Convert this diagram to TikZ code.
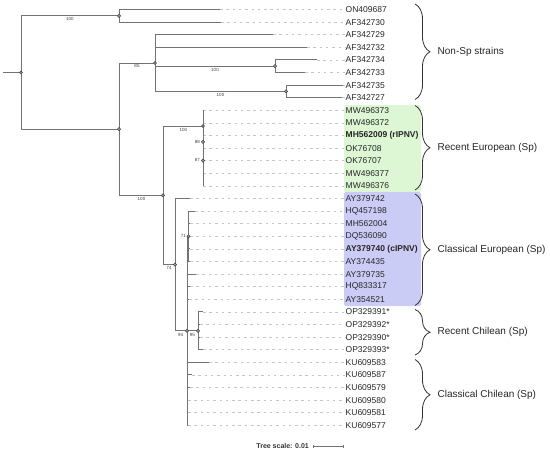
\documentclass[tikz,border=0pt]{standalone}
\usepackage{fontspec}
\setmainfont{Liberation Sans}
\usetikzlibrary{positioning}
\usetikzlibrary{decorations.pathreplacing}
\usetikzlibrary{arrows.meta}
\definecolor{recentEU}{HTML}{DDF6D3}
\definecolor{classicEU}{HTML}{CBCCF6}
\tikzset{
	branch/.style={draw=black!55,line width=1pt},
	leader/.style={draw=black!22,line width=0.8pt,dash pattern=on 2.5pt off 3.8pt},
	dot/.style={circle,draw=black!75,fill=black!35,line width=0.5pt,inner sep=0pt,minimum size=3.2pt},
	boot/.style={font=\fontsize{4.5}{5}\selectfont,text=black!75,inner sep=0pt},
	leaf/.style={anchor=west,inner sep=0.5pt,font=\fontsize{8.5}{10}\selectfont,text=black!85},
	clade/.style={anchor=west,inner sep=0pt,font=\fontsize{10}{12}\selectfont,text=black!85},
	bracket/.style={draw=black!80,line width=0.8pt,decorate,decoration={brace,amplitude=15pt}}
}

\begin{document}
\begin{tikzpicture}[x=1pt,y=-1pt]
	\useasboundingbox (0,0) rectangle (550,453);
	%clade boxes
	\fill[recentEU,rounded corners=1.5pt] (344,105) rectangle (421,192);
	\fill[classicEU,rounded corners=1.5pt] (344,192) rectangle (421,306);
	
	%internal nodes
	\coordinate (ROOT) at (3,72.5);
	\coordinate (IN_R) at (21,72.5);
	\coordinate (IN_A) at (119,15.8);
	\coordinate (IN_B) at (119,129.2);
	\coordinate (IN_C) at (155,63);
	\coordinate (IN_D) at (275,66.2);
	\coordinate (IN_E) at (286,91.4);
	\coordinate (IN_H) at (163,195.3);
	\coordinate (IN_F) at (203,126);
	\coordinate (IN_F2) at (203,141.8);
	\coordinate (IN_F3) at (203,160.7);
	\coordinate (IN_G) at (175,264.6);
	\coordinate (IN_J) at (188.5,236.3);
	\coordinate (IN_K) at (187,330.8);
	\coordinate (IN_M) at (198,330.8);
	
	%non-sp strains
	\coordinate (LF_0) at (220,9.5); \node[leaf] (TX_0) at (345,9.5) {ON409687};
	\coordinate (LF_1) at (221,22.1); \node[leaf] (TX_1) at (345,22.1) {AF342730};
	\coordinate (LF_2) at (273,34.7); \node[leaf] (TX_2) at (345,34.7) {AF342729};
	\coordinate (LF_3) at (307,47.3); \node[leaf] (TX_3) at (345,47.3) {AF342732};
	\coordinate (LF_4) at (317,59.9); \node[leaf] (TX_4) at (345,59.9) {AF342734};
	\coordinate (LF_5) at (305,72.5); \node[leaf] (TX_5) at (345,72.5) {AF342733};
	\coordinate (LF_6) at (343,85.1); \node[leaf] (TX_6) at (345,85.1) {AF342735};
	\coordinate (LF_7) at (342,97.7); \node[leaf] (TX_7) at (345,97.7) {AF342727};
	
	%recent european
	\coordinate (LF_8) at (203,110.3); \node[leaf] (TX_8) at (345,110.3) {MW496373};
	\coordinate (LF_9) at (203,122.9); \node[leaf] (TX_9) at (345,122.9) {MW496372};
	\coordinate (LF_10) at (203,135.5); \node[leaf] (TX_10) at (345,135.5) {\bfseries MH562009 (rIPNV)};
	\coordinate (LF_11) at (203,148.1); \node[leaf] (TX_11) at (345,148.1) {OK76708};
	\coordinate (LF_12) at (203,160.7); \node[leaf] (TX_12) at (345,160.7) {OK76707};
	\coordinate (LF_13) at (203,173.3); \node[leaf] (TX_13) at (345,173.3) {MW496377};
	\coordinate (LF_14) at (203,185.9); \node[leaf] (TX_14) at (345,185.9) {MW496376};
	
	%classical european
	\coordinate (LF_15) at (190,198.5); \node[leaf] (TX_15) at (345,198.5) {AY379742};
	\coordinate (LF_16) at (195,211.1); \node[leaf] (TX_16) at (345,211.1) {HQ457198};
	\coordinate (LF_17) at (190,223.7); \node[leaf] (TX_17) at (345,223.7) {MH562004};
	\coordinate (LF_18) at (190,236.3); \node[leaf] (TX_18) at (345,236.3) {DQ536090};
	\coordinate (LF_19) at (190,248.9); \node[leaf] (TX_19) at (345,248.9) {\bfseries AY379740 (cIPNV)};
	\coordinate (LF_20) at (190,261.5); \node[leaf] (TX_20) at (345,261.5) {AY374435};
	\coordinate (LF_21) at (196,274.1); \node[leaf] (TX_21) at (345,274.1) {AY379735};
	\coordinate (LF_22) at (190,286.7); \node[leaf] (TX_22) at (345,286.7) {HQ833317};
	\coordinate (LF_23) at (189,299.3); \node[leaf] (TX_23) at (345,299.3) {AY354521};
	
	%recent chilean
	\coordinate (LF_24) at (203,311.9); \node[leaf] (TX_24) at (345,311.9) {OP329391*};
	\coordinate (LF_25) at (200,324.5); \node[leaf] (TX_25) at (345,324.5) {OP329392*};
	\coordinate (LF_26) at (200,337.1); \node[leaf] (TX_26) at (345,337.1) {OP329390*};
	\coordinate (LF_27) at (203,349.7); \node[leaf] (TX_27) at (345,349.7) {OP329393*};
	
	%classical chilean
	\coordinate (LF_28) at (209,362.3); \node[leaf] (TX_28) at (345,362.3) {KU609583};
	\coordinate (LF_29) at (192,374.9); \node[leaf] (TX_29) at (345,374.9) {KU609587};
	\coordinate (LF_30) at (190,387.5); \node[leaf] (TX_30) at (345,387.5) {KU609579};
	\coordinate (LF_31) at (188,400.1); \node[leaf] (TX_31) at (345,400.1) {KU609580};
	\coordinate (LF_32) at (188,412.7); \node[leaf] (TX_32) at (345,412.7) {KU609581};
	\coordinate (LF_33) at (188,425.3); \node[leaf] (TX_33) at (345,425.3) {KU609577};
	
	%leaders
	\draw[leader] (LF_0) -- (TX_0);
	\draw[leader] (LF_1) -- (TX_1);
	\draw[leader] (LF_2) -- (TX_2);
	\draw[leader] (LF_3) -- (TX_3);
	\draw[leader] (LF_4) -- (TX_4);
	\draw[leader] (LF_5) -- (TX_5);
	\draw[leader] (LF_6) -- (TX_6);
	\draw[leader] (LF_7) -- (TX_7);
	\draw[leader] (LF_8) -- (TX_8);
	\draw[leader] (LF_9) -- (TX_9);
	\draw[leader] (LF_10) -- (TX_10);
	\draw[leader] (LF_11) -- (TX_11);
	\draw[leader] (LF_12) -- (TX_12);
	\draw[leader] (LF_13) -- (TX_13);
	\draw[leader] (LF_14) -- (TX_14);
	\draw[leader] (LF_15) -- (TX_15);
	\draw[leader] (LF_16) -- (TX_16);
	\draw[leader] (LF_17) -- (TX_17);
	\draw[leader] (LF_18) -- (TX_18);
	\draw[leader] (LF_19) -- (TX_19);
	\draw[leader] (LF_20) -- (TX_20);
	\draw[leader] (LF_21) -- (TX_21);
	\draw[leader] (LF_22) -- (TX_22);
	\draw[leader] (LF_23) -- (TX_23);
	\draw[leader] (LF_24) -- (TX_24);
	\draw[leader] (LF_25) -- (TX_25);
	\draw[leader] (LF_26) -- (TX_26);
	\draw[leader] (LF_27) -- (TX_27);
	\draw[leader] (LF_28) -- (TX_28);
	\draw[leader] (LF_29) -- (TX_29);
	\draw[leader] (LF_30) -- (TX_30);
	\draw[leader] (LF_31) -- (TX_31);
	\draw[leader] (LF_32) -- (TX_32);
	\draw[leader] (LF_33) -- (TX_33);
	
	%branches
	\draw[branch] (ROOT) -- (IN_R);
	\draw[branch] (IN_R) |- (IN_A);
	\draw[branch] (IN_R) |- (IN_B);
	\draw[branch] (IN_A) |- (LF_0);
	\draw[branch] (IN_A) |- (LF_1);
	\draw[branch] (IN_B) |- (IN_C);
	\draw[branch] (IN_B) |- (IN_H);
	\draw[branch] (IN_C) |- (LF_2);
	\draw[branch] (IN_C) |- (LF_3);
	\draw[branch] (IN_C) |- (IN_D);
	\draw[branch] (IN_C) |- (IN_E);
	\draw[branch] (IN_D) |- (LF_4);
	\draw[branch] (IN_D) |- (LF_5);
	\draw[branch] (IN_E) |- (LF_6);
	\draw[branch] (IN_E) |- (LF_7);
	\draw[branch] (IN_H) |- (IN_F);
	\draw[branch] (IN_H) |- (IN_G);
	\draw[branch] (IN_F) |- (LF_8);
	\draw[branch] (IN_F) |- (IN_F2);
	\draw[branch] (IN_F2) |- (LF_9);
	\draw[branch] (IN_F2) |- (IN_F3);
	\draw[branch] (IN_F3) |- (LF_10);
	\draw[branch] (IN_F3) |- (LF_14);
	\draw[branch] (IN_G) |- (LF_15);
	\draw[branch] (IN_G) |- (IN_K);
	\draw[branch] (IN_K) |- (IN_J);
	\draw[branch] (IN_J) |- (LF_16);
	\draw[branch] (IN_J) |- (LF_17);
	\draw[branch] (IN_J) |- (LF_18);
	\draw[branch] (IN_J) |- (LF_19);
	\draw[branch] (IN_J) |- (LF_20);
	\draw[branch] (IN_K) |- (LF_21);
	\draw[branch] (IN_K) |- (LF_22);
	\draw[branch] (IN_K) |- (LF_23);
	\draw[branch] (IN_K) |- (IN_M);
	\draw[branch] (IN_M) |- (LF_24);
	\draw[branch] (IN_M) |- (LF_25);
	\draw[branch] (IN_M) |- (LF_26);
	\draw[branch] (IN_M) |- (LF_27);
	\draw[branch] (IN_K) |- (LF_28);
	\draw[branch] (IN_K) |- (LF_29);
	\draw[branch] (IN_K) |- (LF_30);
	\draw[branch] (IN_K) |- (LF_31);
	\draw[branch] (IN_K) |- (LF_32);
	\draw[branch] (IN_K) |- (LF_33);
	
	%node dots
	\node[dot] (DT_R) at (IN_R) {};
	\node[dot] (DT_A) at (IN_A) {};
	\node[dot] (DT_B) at (IN_B) {};
	\node[dot] (DT_C) at (IN_C) {};
	\node[dot] (DT_D) at (IN_D) {};
	\node[dot] (DT_E) at (IN_E) {};
	\node[dot] (DT_H) at (IN_H) {};
	\node[dot] (DT_F) at (IN_F) {};
	\node[dot] (DT_F2) at (IN_F2) {};
	\node[dot] (DT_F3) at (IN_F3) {};
	\node[dot] (DT_G) at (IN_G) {};
	\node[dot] (DT_J) at (IN_J) {};
	\node[dot] (DT_K) at (IN_K) {};
	\node[dot] (DT_M) at (IN_M) {};
	
	%bootstrap values
	\node[boot] (BS_A) at (70,19) {100};
	\node[boot] (BS_C) at (137,66.3) {85};
	\node[boot] (BS_D) at (215,69.5) {100};
	\node[boot] (BS_E) at (220.5,95) {100};
	\node[boot] (BS_H) at (141.5,199) {100};
	\node[boot] (BS_F) at (183.3,129.5) {100};
	\node[boot] (BS_F2) at (197.5,141.6) {88};
	\node[boot] (BS_F3) at (197.5,160.4) {87};
	\node[boot] (BS_G) at (169,268) {74};
	\node[boot] (BS_J) at (183.3,236.2) {71};
	\node[boot] (BS_K) at (180.7,334.5) {94};
	\node[boot] (BS_M) at (192.3,335.3) {95};
	
	%clade brackets
	\draw[bracket] (415,4) -- (415,99.5);
	\node[clade] (CL_1) at (437.5,51.8) {Non-Sp strains};
	\draw[bracket] (415,105.5) -- (415,190);
	\node[clade] (CL_2) at (437.5,147.8) {Recent European (Sp)};
	\draw[bracket] (415,194) -- (415,305.5);
	\node[clade] (CL_3) at (437.5,249.8) {Classical European (Sp)};
	\draw[bracket] (415,309.5) -- (415,355);
	\node[clade] (CL_4) at (437.5,332.3) {Recent Chilean (Sp)};
	\draw[bracket] (415,359.5) -- (415,430);
	\node[clade] (CL_5) at (437.5,394.8) {Classical Chilean (Sp)};
	
	%tree scale
	\node[anchor=east,inner sep=0pt,font=\bfseries\fontsize{7}{8}\selectfont,text=black!80] (SC_T) at (309,446) {Tree scale: 0.01};
	\coordinate (SC_A) at (313,446);
	\coordinate (SC_B) at (344,446);
	\draw[branch,line width=0.8pt,{Bar[width=3pt]}-{Bar[width=3pt]}] (SC_A) -- (SC_B);
\end{tikzpicture}
\end{document}
